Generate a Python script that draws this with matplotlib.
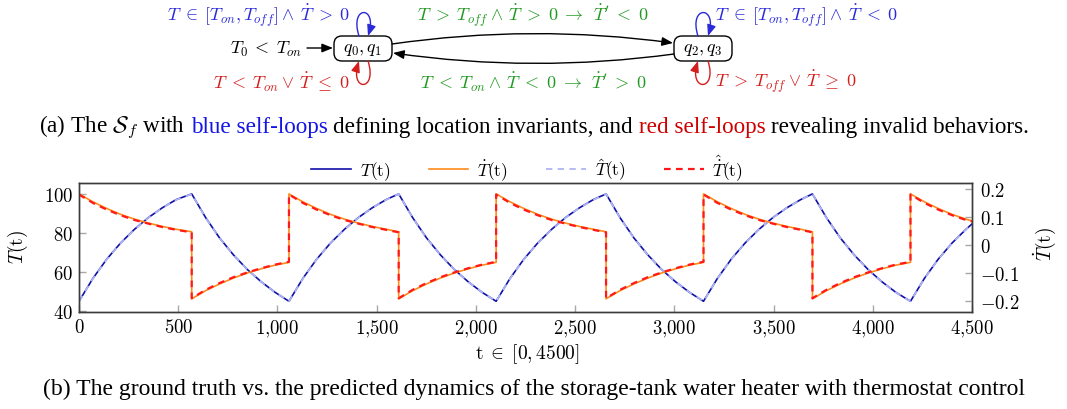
import matplotlib
matplotlib.use('Agg')
import matplotlib.pyplot as plt
from matplotlib.patches import FancyBboxPatch, FancyArrowPatch
from matplotlib.path import Path
from matplotlib.lines import Line2D
from matplotlib.ticker import FixedLocator, FuncFormatter

plt.rcParams['mathtext.fontset'] = 'cm'
plt.rcParams['font.family'] = ['Liberation Serif', 'DejaVu Serif']

# ---------------- data ----------------
t = [0, 70, 140, 210, 280, 350, 420, 490, 568,
     568, 638, 708, 778, 848, 918, 988, 1058,
     1058, 1128, 1198, 1268, 1338, 1408, 1478, 1548, 1611,
     1611, 1681, 1751, 1821, 1891, 1961, 2031, 2102,
     2102, 2172, 2242, 2312, 2382, 2452, 2522, 2592, 2656,
     2656, 2726, 2796, 2866, 2936, 3006, 3076, 3147,
     3147, 3217, 3287, 3357, 3427, 3497, 3567, 3637, 3696,
     3696, 3766, 3836, 3906, 3976, 4046, 4116, 4190,
     4190, 4260, 4330, 4400, 4470, 4500]

T_true = [45, 56.7, 66.6, 74.9, 81.9, 87.9, 92.9, 97.1, 100,
          100, 87.9, 77.5, 68.8, 61.3, 55.0, 49.6, 45,
          45, 56.7, 66.6, 74.9, 81.9, 87.9, 92.9, 97.1, 100,
          100, 87.9, 77.5, 68.8, 61.3, 55.0, 49.6, 45,
          45, 56.7, 66.6, 74.9, 81.9, 87.9, 92.9, 97.1, 100,
          100, 87.9, 77.5, 68.8, 61.3, 55.0, 49.6, 45,
          45, 56.7, 66.6, 74.9, 81.9, 87.9, 92.9, 97.1, 100,
          100, 87.9, 77.5, 68.8, 61.3, 55.0, 49.6, 45,
          45, 56.7, 66.6, 74.9, 81.9, 84.6]

T_pred = [45, 56.6, 66.5, 74.8, 81.8, 87.8, 92.9, 97.0, 100,
          100, 87.8, 77.4, 68.7, 61.3, 55.0, 49.6, 45,
          45, 56.6, 66.5, 74.8, 81.8, 87.8, 92.9, 97.0, 100,
          100, 87.8, 77.4, 68.7, 61.3, 55.0, 49.6, 45,
          45, 56.6, 66.5, 74.8, 81.8, 87.8, 92.9, 97.0, 100,
          100, 87.8, 77.4, 68.7, 61.3, 55.0, 49.6, 45,
          45, 56.6, 66.5, 74.8, 81.8, 87.8, 92.9, 97.0, 100,
          100, 87.8, 77.4, 68.7, 61.3, 55.0, 49.6, 45,
          45, 56.6, 66.5, 74.8, 81.8, 84.5]

Tdot_true = [0.182, 0.154, 0.130, 0.109, 0.092, 0.078, 0.066, 0.056, 0.047,
             -0.192, -0.163, -0.139, -0.118, -0.100, -0.085, -0.072, -0.062,
             0.182, 0.154, 0.130, 0.109, 0.092, 0.078, 0.066, 0.056, 0.047,
             -0.192, -0.163, -0.139, -0.118, -0.100, -0.085, -0.072, -0.062,
             0.182, 0.154, 0.130, 0.109, 0.092, 0.078, 0.066, 0.056, 0.047,
             -0.192, -0.163, -0.139, -0.118, -0.100, -0.085, -0.072, -0.062,
             0.182, 0.154, 0.130, 0.109, 0.092, 0.078, 0.066, 0.056, 0.047,
             -0.192, -0.163, -0.139, -0.118, -0.100, -0.085, -0.072, -0.062,
             0.182, 0.154, 0.130, 0.109, 0.092, 0.086]

Tdot_pred = [0.180, 0.150, 0.126, 0.106, 0.089, 0.076, 0.064, 0.054, 0.045,
             -0.190, -0.160, -0.136, -0.115, -0.098, -0.083, -0.070, -0.060,
             0.180, 0.150, 0.126, 0.106, 0.089, 0.076, 0.064, 0.054, 0.045,
             -0.190, -0.160, -0.136, -0.115, -0.098, -0.083, -0.070, -0.060,
             0.180, 0.150, 0.126, 0.106, 0.089, 0.076, 0.064, 0.054, 0.045,
             -0.190, -0.160, -0.136, -0.115, -0.098, -0.083, -0.070, -0.060,
             0.180, 0.150, 0.126, 0.106, 0.089, 0.076, 0.064, 0.054, 0.045,
             -0.190, -0.160, -0.136, -0.115, -0.098, -0.083, -0.070, -0.060,
             0.180, 0.150, 0.126, 0.106, 0.089, 0.084]

x_ticks = [0, 500, 1000, 1500, 2000, 2500, 3000, 3500, 4000, 4500]
y_ticks = [40, 60, 80, 100]
y2_ticks = [-0.2, -0.1, 0, 0.1, 0.2]

legend_labels = [r'$T(\mathrm{t})$', r'$\dot{T}(\mathrm{t})$',
                 r'$\hat{T}(\mathrm{t})$', r'$\hat{\dot{T}}(\mathrm{t})$']

# ---------------- styles ----------------
C_T = '#1010a8'
C_TD = '#ff8a1a'
C_TH = '#aeb4f2'
C_TDH = '#ff1a1a'
BLUE_TXT = '#2a2ad8'
RED_TXT = '#d41e1e'
GREEN_TXT = '#1f991f'
SPINE = '#3c3c3c'
TICK = '#a8a8a8'

W, H = 1067, 410
fig = plt.figure(figsize=(W / 100, H / 100), dpi=100)
ov = fig.add_axes([0, 0, 1, 1])
ov.set_xlim(0, W)
ov.set_ylim(H, 0)
ov.axis('off')
renderer = fig.canvas.get_renderer()


def width_of(s, fs, **kw):
    tt = ov.text(0, 0, s, fontsize=fs, **kw)
    w = tt.get_window_extent(renderer).width
    tt.remove()
    return w


# ---------------- automaton ----------------
dfs = 13
lab = dict(fontsize=dfs, va='center')
ov.text(350, 16, r'$T \;\in\; [T_{on}, T_{off}] \:\wedge\:\, \dot{T} \;>\; 0$', color=BLUE_TXT, ha='right', **lab)
ov.text(350, 82, r'$T \;<\; T_{on} \:\vee\:\, \dot{T} \;\leq\; 0$', color=RED_TXT, ha='right', **lab)
ov.text(533, 16, r"$T \;>\; T_{off} \:\wedge\:\, \dot{T} \;>\; 0 \;\rightarrow\;\, \dot{T}' \;<\; 0$",
        color=GREEN_TXT, ha='center', **lab)
ov.text(533, 82, r"$T \;<\; T_{on} \:\wedge\:\, \dot{T} \;<\; 0 \;\rightarrow\;\, \dot{T}' \;>\; 0$",
        color=GREEN_TXT, ha='center', **lab)
ov.text(715, 16, r'$T \;\in\; [T_{on}, T_{off}] \:\wedge\:\, \dot{T} \;<\; 0$', color=BLUE_TXT, ha='left', **lab)
ov.text(715, 82, r'$T \;>\; T_{off} \:\vee\:\, \dot{T} \;\geq\; 0$', color=RED_TXT, ha='left', **lab)
ov.text(302, 49, r'$T_0 \:<\; T_{on}$', color='black', ha='right', **lab)

for x0, s in [(334, r'$q_0, q_1$'), (674, r'$q_2, q_3$')]:
    box = FancyBboxPatch((x0, 37), 58, 25, boxstyle='round,pad=0,rounding_size=8',
                         fc='white', ec='black', lw=1.0)
    ov.add_patch(box)
    ov.text(x0 + 29, 49.5, s, ha='center', va='center', fontsize=dfs)

arrow_kw = dict(arrowstyle='-|>,head_length=0.55,head_width=0.22', mutation_scale=12,
                shrinkA=0, shrinkB=0, lw=1.0)
ov.add_patch(FancyArrowPatch((307, 49), (333, 49), color='black', **arrow_kw))
ov.add_patch(FancyArrowPatch((392, 45), (673, 44), connectionstyle='arc3,rad=-0.07',
                             color='black', **arrow_kw))
ov.add_patch(FancyArrowPatch((674, 55), (393, 54), connectionstyle='arc3,rad=-0.07',
                             color='black', **arrow_kw))

C4 = [Path.MOVETO, Path.CURVE4, Path.CURVE4, Path.CURVE4]
loop_kw = dict(arrowstyle='-|>,head_length=0.55,head_width=0.22', mutation_scale=12, lw=1.0)
for (xa, xb) in [(359, 368), (698, 708)]:
    up = Path([(xa, 37), (xa - 10, 6), (xb + 10, 6), (xb, 37)], C4)
    ov.add_patch(FancyArrowPatch(path=up, color=BLUE_TXT, **loop_kw))
    dn = Path([(xb, 62), (xb + 10, 93), (xa - 10, 93), (xa, 62)], C4)
    ov.add_patch(FancyArrowPatch(path=dn, color=RED_TXT, **loop_kw))

# ---------------- captions ----------------
pieces = [(r'(a) The $\mathcal{S}_f$ with', 'black'), ('blue self-loops', '#1414e6'),
          ('defining location invariants, and', 'black'), ('red self-loops', '#d00000'),
          ('revealing invalid behaviors.', 'black')]
cfs0 = 10
sp0 = width_of('a a', cfs0) - width_of('aa', cfs0)
tot0 = sum(width_of(s, cfs0) for s, _ in pieces) + sp0 * (len(pieces) - 1)
cfs = cfs0 * 992.0 / tot0
sp = width_of('a a', cfs) - width_of('aa', cfs)
ws = [width_of(s, cfs) for s, _ in pieces]
x = 534 - (sum(ws) + sp * (len(pieces) - 1)) / 2
for (s, c), w in zip(pieces, ws):
    ov.text(x, 128, s, color=c, fontsize=cfs, ha='left', va='center')
    x += w + sp

cap_b = '(b) The ground truth vs. the predicted dynamics of the storage-tank water heater with thermostat control'
cfs_b = 10 * 982.0 / width_of(cap_b, 10)
ov.text(534, 389, cap_b, fontsize=cfs_b, ha='center', va='center')

# ---------------- chart ----------------
ax = fig.add_axes([79 / W, (H - 313) / H, 893 / W, 129 / H])
ax2 = ax.twinx()
ax.plot(t, T_true, color=C_T, lw=1.2)
ax.plot(t, T_pred, color=C_TH, lw=1.3, linestyle=(0, (3.5, 3.0)))
ax2.plot(t, Tdot_true, color=C_TD, lw=1.2)
ax2.plot(t, Tdot_pred, color=C_TDH, lw=1.6, linestyle=(0, (3.0, 2.4)))

ax.set_xlim(0, 4500)
ax.set_ylim(39.5, 105.6)
ax2.set_ylim(-0.239, 0.221)

ax.xaxis.set_major_locator(FixedLocator(x_ticks))
ax.yaxis.set_major_locator(FixedLocator(y_ticks))
ax2.yaxis.set_major_locator(FixedLocator(y2_ticks))
ax.xaxis.set_major_formatter(FuncFormatter(
    lambda v, p: r'$%s$' % (('%d' % v) if v < 1000 else ('%d{,}%03d' % (v // 1000, v % 1000)))))
ax.yaxis.set_major_formatter(FuncFormatter(lambda v, p: r'$%d$' % v))
ax2.yaxis.set_major_formatter(FuncFormatter(
    lambda v, p: r'$0$' if abs(v) < 1e-9 else (r'$%.1f$' % v)))

tfs = 13.5
ax.tick_params(axis='x', direction='in', length=5, width=1, color=TICK, labelsize=tfs,
               pad=4, top=False)
ax.tick_params(axis='y', direction='in', length=5, width=1, color=TICK, labelsize=tfs,
               pad=4, right=False)
ax2.tick_params(axis='y', direction='in', length=5, width=1, color=TICK, labelsize=tfs,
                pad=6)
for a in (ax, ax2):
    for sp_ in a.spines.values():
        sp_.set_color(SPINE)
        sp_.set_linewidth(1.0)

lfs = 14
ov.text(527, 354, r'$\mathrm{t} \;\in\; [0, 4500]$', fontsize=lfs, ha='center', va='center')
ov.text(18, 247, r'$T(\mathrm{t})$', fontsize=lfs, ha='center', va='center', rotation=90)
ov.text(1045, 244, r'$\dot{T}(\mathrm{t})$', fontsize=lfs, ha='center', va='center', rotation=90)

h1 = Line2D([], [], color=C_T, lw=1.2)
h2 = Line2D([], [], color=C_TD, lw=1.2)
h3 = Line2D([], [], color=C_TH, lw=1.3, linestyle=(0, (3.5, 3.0)))
h4 = Line2D([], [], color=C_TDH, lw=1.6, linestyle=(0, (3.0, 2.4)))
fig.legend([h1, h2, h3, h4], legend_labels, loc='center', bbox_to_anchor=(527 / W, (H - 168) / H),
           ncol=4, frameon=False, fontsize=12.5, handlelength=2.3, handletextpad=0.5,
           columnspacing=2.2, borderaxespad=0, borderpad=0)

fig.savefig('out.png', dpi=100)
